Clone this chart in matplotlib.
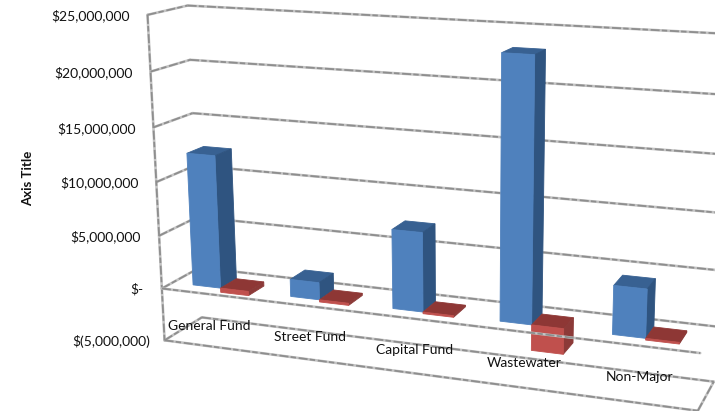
import numpy as np
import matplotlib
matplotlib.use('Agg')
import matplotlib.pyplot as plt
from matplotlib.patches import Polygon

plt.rcParams['font.family'] = ['Lato', 'DejaVu Sans']

# fondos y valores, en millones de dolares
categorias = ['General Fund', 'Street Fund', 'Capital Fund', 'Wastewater', 'Non-Major']
serie_azul = [12.4, 1.6, 7.2, 23.2, 4.3]
serie_roja = [-0.4, -0.2, -0.15, -2.3, -0.15]
ticks_valor = [25, 20, 15, 10, 5, 0, -5]
ticks_texto = ['$25,000,000', '$20,000,000', '$15,000,000', '$10,000,000',
               '$5,000,000', '$-', '$(5,000,000)']

# camara 3x4: (categoria, profundidad, valor) -> pixel
CAMARA = np.array([[91.8087, 46.8138, -0.838235, 161.854],
                   [4.91676, -8.65561, -10.9722, 288.503],
                   [-0.0226474, 0.0456058, -0.0017988, 1.0]])

ANCHO_BARRA = 0.286
INICIO_BARRA = 0.214
PROF_FRENTE = 0.28
PROF_FONDO = 0.72


def proyectar(x, d, v):
    h = CAMARA @ np.array([x, d, v, 1.0])
    return h[0] / h[2], h[1] / h[2]


def linea(a, b, z=1):
    # linea de la grilla: base clara con trazos mas oscuros encima
    p1 = proyectar(*a)
    p2 = proyectar(*b)
    xs = [p1[0], p2[0]]
    ys = [p1[1], p2[1]]
    ax.plot(xs, ys, color='#c4c4c4', lw=1.9, solid_capstyle='round', zorder=z)
    ax.plot(xs, ys, color='#8e8e8e', lw=1.3, ls=(0, (5, 1.2, 3, 1.5)), zorder=z + 0.1)


def barra(x0, v, frente, lado, tapa):
    x1 = x0 + ANCHO_BARRA
    abajo, arriba = min(0, v), max(0, v)
    d0, d1 = PROF_FRENTE, PROF_FONDO
    caras = [
        ([(x0, d0, arriba), (x0, d1, arriba), (x1, d1, arriba), (x1, d0, arriba)], tapa),
        ([(x1, d0, abajo), (x1, d1, abajo), (x1, d1, arriba), (x1, d0, arriba)], lado),
        ([(x0, d0, abajo), (x1, d0, abajo), (x1, d0, arriba), (x0, d0, arriba)], frente),
    ]
    for esquinas, color in caras:
        ax.add_patch(Polygon([proyectar(*e) for e in esquinas], closed=True,
                             facecolor=color, edgecolor=color, lw=0.6, zorder=2))


fig, ax = plt.subplots(figsize=(7.15, 4.11), dpi=100)
fig.subplots_adjust(0, 0, 1, 1)
ax.set_xlim(0, 715)
ax.set_ylim(411, 0)
ax.axis('off')

n = len(categorias)

# paredes: lineas laterales y del fondo para cada valor
for v in ticks_valor:
    linea((0, 0, v), (0, 1, v))
    linea((0, 1, v), (n, 1, v))

# eje vertical y bordes del piso
linea((0, 0, ticks_valor[0]), (0, 0, ticks_valor[-1]))
linea((0, 0, -5), (n, 0, -5))
linea((n, 0, -5), (n, 1, -5))

for i in range(n):
    barra(i + INICIO_BARRA, serie_azul[i], '#4f81bd', '#2f5480', '#386192')
    barra(i + INICIO_BARRA + ANCHO_BARRA, serie_roja[i], '#c0504d', '#8c3a38', '#8e3735')

# linea frontal del cero, pasa por encima de las barras
linea((0, 0, 0), (n, 0, 0), z=3)

# etiquetas del eje de valores
for v, texto in zip(ticks_valor, ticks_texto):
    px, py = proyectar(0, 0, v)
    sep = 14 if v == -5 else 18
    ax.text(px - sep, py + 1, texto, ha='right', va='center', fontsize=10,
            color='#111111', zorder=4)

# etiquetas de categorias, debajo de la linea del cero
for i, nombre in enumerate(categorias):
    px, py = proyectar(i + 0.5, 0, -5)
    ax.text(px - 3 + i, py - 21 - 1.25 * i, nombre, ha='center', va='center', fontsize=10,
            color='#111111', zorder=4)

ax.text(28, 178, 'Axis Title', rotation=90, ha='center', va='center',
        fontsize=9.5, fontweight='bold', color='#111111')

fig.savefig('out.png', dpi=100)
